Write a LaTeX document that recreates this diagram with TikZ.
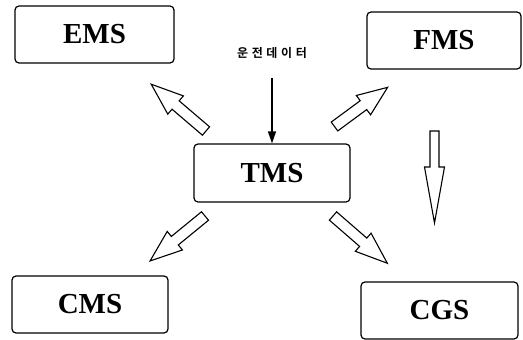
\documentclass[tikz,border=0pt]{standalone}
\usepackage{fontspec}
\setmainfont{Liberation Serif}
\newfontfamily\krfont{Noto Sans CJK KR}[BoldFont={Noto Sans CJK KR Bold},LetterSpace=30]
\usetikzlibrary{arrows.meta}
\newcommand\barrow[6]{%
  \begin{scope}[shift={(#1)},rotate=#2]
    \draw[blockarr] (0,-#4/2) -- (#3-#6,-#4/2) -- (#3-#6,-#5/2) -- (#3,0)
      -- (#3-#6,#5/2) -- (#3-#6,#4/2) -- (0,#4/2) -- cycle;
  \end{scope}}
\begin{document}
\begin{tikzpicture}[x=1pt,y=-1pt,
  sysbox/.style={draw,line width=1.2pt,rounded corners=4pt,inner sep=0pt,
     font=\fontsize{29}{30}\selectfont\bfseries},
  blockarr/.style={draw,line width=1.1pt,fill=white,line join=miter}]
\useasboundingbox (0,0) rectangle (523,340);
\node[sysbox,minimum width=159pt,minimum height=57pt] (ems) at (94.5,34.5) {EMS};
\node[sysbox,minimum width=154pt,minimum height=57pt] (fms) at (444,40.5) {FMS};
\node[sysbox,minimum width=156pt,minimum height=58pt] (tms) at (272,173) {TMS};
\node[sysbox,minimum width=156pt,minimum height=57pt] (cms) at (90,304.5) {CMS};
\node[sysbox,minimum width=157pt,minimum height=57pt] (cgs) at (439.5,310.5) {CGS};
\node[font=\krfont\fontsize{12}{13}\selectfont\bfseries] (data) at (272,53) {운전데이터};
\coordinate (dtop) at (272,78);
\draw[line width=1.3pt,-{Triangle[length=12pt,width=8pt]}] (dtop) -- (tms.north -| dtop);
\barrow{206,131}{139.5}{72}{11}{24}{32}
\barrow{334.5,126.5}{36.4}{66}{11}{24}{30}
\barrow{205,216}{219.3}{71}{11}{24}{32}
\barrow{333,216}{-41}{72}{11}{24}{32}
\barrow{434.5,131}{-90}{92}{9}{20}{56}
\end{tikzpicture}
\end{document}
